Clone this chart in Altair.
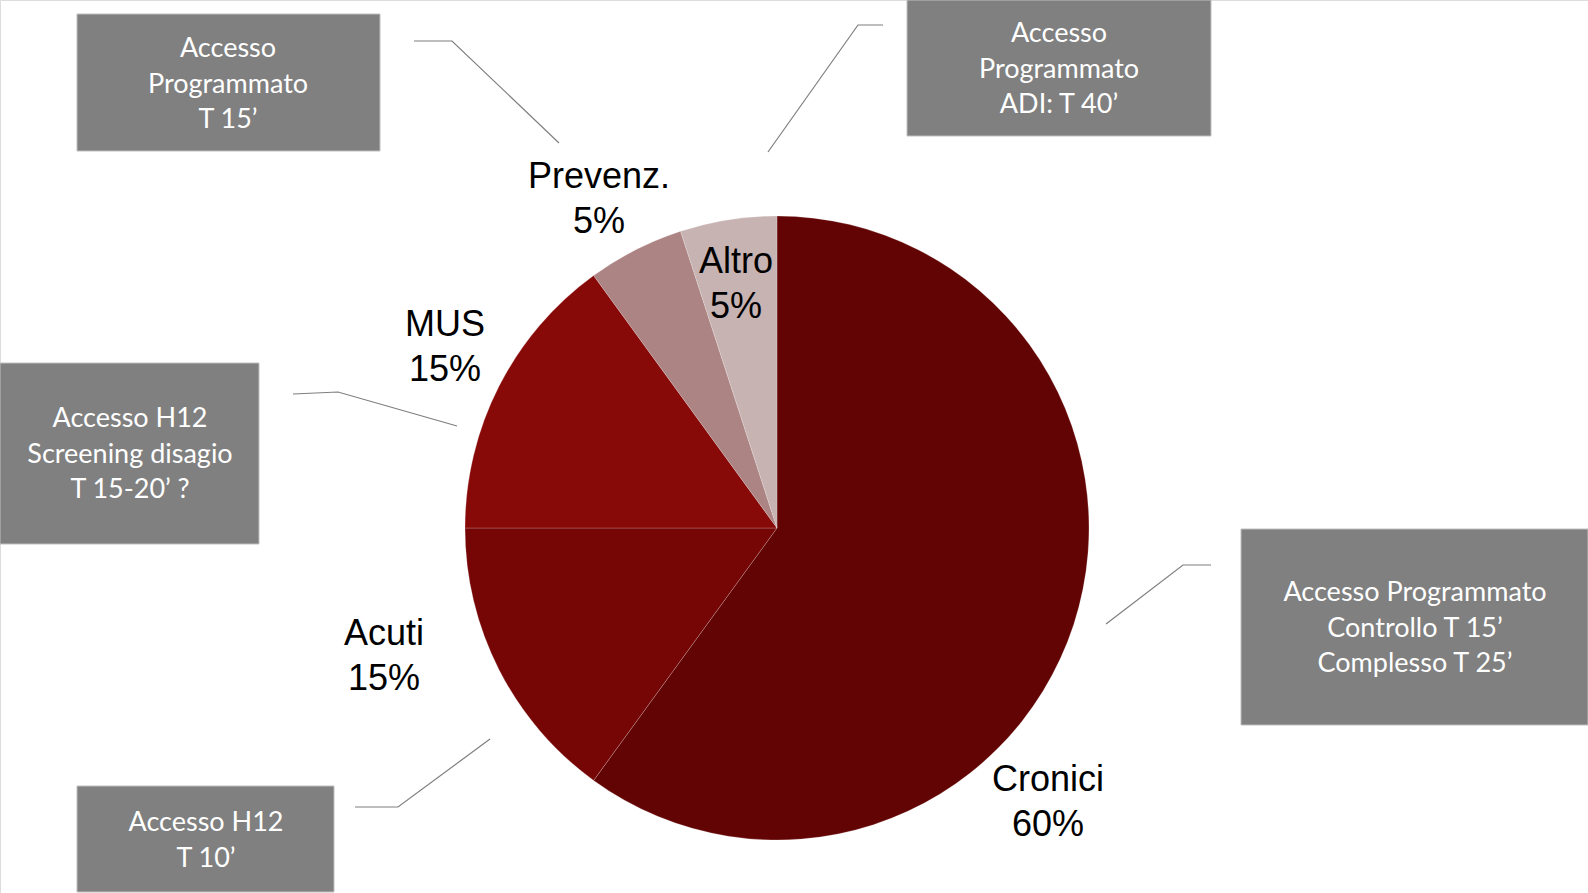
import altair as alt
import pandas as pd

# ---- data ----
categories = ["Cronici", "Acuti", "MUS", "Prevenz.", "Altro"]
shares = [60, 15, 15, 5, 5]
slice_colors = ["#630404", "#760606", "#870908", "#AC8483", "#C7B3B2"]

box_texts = [
    ["Accesso", "Programmato", "T 15\u2019"],
    ["Accesso", "Programmato", "ADI: T 40\u2019"],
    ["Accesso H12", "Screening disagio", "T 15-20\u2019 ?"],
    ["Accesso H12", "T 10\u2019"],
    ["Accesso Programmato", "Controllo T 15\u2019", "Complesso T 25\u2019"],
]

# ---- layout (pixel space of the 1588x893 canvas) ----
W, H = 1588, 893
CX, CY, R = 777, 528, 312
# position of the first text line of each pie label
label_pos = [(1048, 780), (384, 634), (445, 325), (599, 177), (736, 262)]
box_rects = [(77, 380, 14, 151), (907, 1211, 0, 136), (0, 259, 363, 544),
             (77, 334, 786, 892), (1241, 1588, 529, 725)]
# position of the first text line in each box
box_text_pos = [(228, 49), (1059, 34), (130, 419), (206, 823), (1415, 593)]
leaders = [
    [(414, 41), (452, 41), (559, 143)],
    [(883, 25), (858, 25), (768, 152)],
    [(293, 394), (338, 392), (457, 426)],
    [(355, 807), (398, 807), (490, 739)],
    [(1211, 565), (1183, 565), (1106, 624)],
]

pie_df = pd.DataFrame({"cat": categories, "share": shares, "idx": range(len(categories))})
lab_df = pd.DataFrame({
    "text": [f"{c}\n{s}%" for c, s in zip(categories, shares)],
    "x": [p[0] for p in label_pos], "y": [p[1] for p in label_pos],
})
box_df = pd.DataFrame({
    "x": [b[0] for b in box_rects], "x2": [b[1] for b in box_rects],
    "y": [b[2] for b in box_rects], "y2": [b[3] for b in box_rects],
    "text": ["\n".join(t) for t in box_texts],
    "tx": [c[0] for c in box_text_pos], "ty": [c[1] for c in box_text_pos],
})
lead_rows = []
for gi, pts in enumerate(leaders):
    for oi, (px, py) in enumerate(pts):
        lead_rows.append({"g": gi, "o": oi, "x": px, "y": py})
lead_df = pd.DataFrame(lead_rows)

xs = alt.Scale(domain=[0, W], nice=False, zero=False)
ys = alt.Scale(domain=[0, H], nice=False, zero=False, reverse=True)

pie = alt.Chart(pie_df).mark_arc(radius=R, stroke="#ffffff", strokeWidth=0.4, strokeOpacity=0.5).encode(
    theta=alt.Theta("share:Q", stack=True),
    order=alt.Order("idx:Q"),
    color=alt.Color("cat:N", scale=alt.Scale(domain=categories, range=slice_colors), legend=None),
    x=alt.value(CX), y=alt.value(CY),
)

labels = alt.Chart(lab_df).mark_text(
    font="Liberation Sans", fontSize=36, lineHeight=44.5, color="#000000",
    align="center", baseline="middle", lineBreak="\n",
).encode(
    x=alt.X("x:Q", scale=xs, axis=None), y=alt.Y("y:Q", scale=ys, axis=None), text="text:N",
)

boxes = alt.Chart(box_df).mark_rect(fill="#808080", stroke="#BFBFBF", strokeWidth=1).encode(
    x=alt.X("x:Q", scale=xs, axis=None), x2="x2:Q",
    y=alt.Y("y:Q", scale=ys, axis=None), y2="y2:Q",
)

box_labels = alt.Chart(box_df).mark_text(
    font="Lato", fontSize=27, lineHeight=35.5, color="#FFFFFF",
    align="center", baseline="middle", lineBreak="\n",
).encode(
    x=alt.X("tx:Q", scale=xs, axis=None), y=alt.Y("ty:Q", scale=ys, axis=None), text="text:N",
)

lines = alt.Chart(lead_df).mark_line(color="#7F7F7F", strokeWidth=1.2).encode(
    x=alt.X("x:Q", scale=xs, axis=None), y=alt.Y("y:Q", scale=ys, axis=None),
    detail="g:N", order="o:Q",
)

chart = alt.layer(lines, pie, labels, boxes, box_labels).properties(
    width=W, height=H, autosize=alt.AutoSizeParams(type="none"), padding=0,
).configure_view(stroke="transparent", strokeWidth=0).configure(background="#FFFFFF")

chart.save("out.html", embed_options={"renderer": "svg", "actions": False})
